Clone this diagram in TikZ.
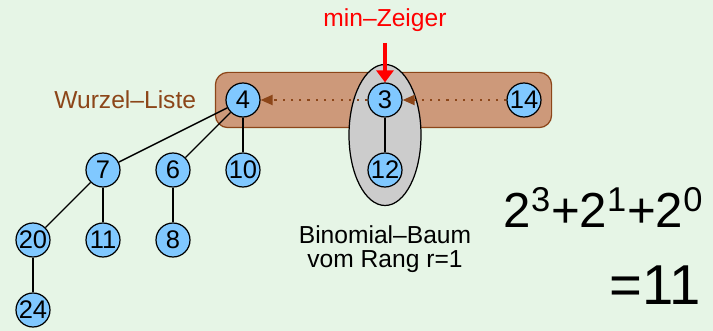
\documentclass[tikz,border=0pt]{standalone}
\usepackage{fontspec}
\setmainfont{Liberation Sans}
\usetikzlibrary{positioning,arrows.meta,backgrounds,fit,calc}
\definecolor{bggreen}{RGB}{230,245,230}
\definecolor{listfill}{RGB}{205,153,122}
\definecolor{listdraw}{RGB}{140,70,25}
\definecolor{keyblue}{RGB}{128,200,255}
\definecolor{treegray}{RGB}{204,204,204}
\begin{document}
\begin{tikzpicture}[node distance=1.4cm,
  key/.style={circle, draw, fill=keyblue, line width=0.7pt, minimum size=0.68cm, inner sep=0pt, font=\fontsize{14.5}{15}\selectfont},
  lbl/.style={font=\fontsize{14}{14}\selectfont},
  hand/.style={font=\fontsize{28}{30}\selectfont},
  nextptr/.style={listdraw, line width=1.2pt, dash pattern=on 1.2pt off 3.5pt, -{Triangle[length=0.24cm, width=0.2cm]}},
  minptr/.style={red, line width=2.2pt, shorten <=3pt, -{Triangle[length=0.24cm, width=0.34cm]}}]
  \node[key] (n4) at (4.86,-2.0) {4};
  \node[key, right of=n4, xshift=1.44cm] (n3) {3};
  \node[key, right of=n3, xshift=1.38cm] (n14) {14};
  \node[key, below of=n4] (n10) {10};
  \node[key, left of=n10] (n6) {6};
  \node[key, left of=n6] (n7) {7};
  \node[key, below of=n7] (n11) {11};
  \node[key, below of=n6] (n8) {8};
  \node[key, left of=n11] (n20) {20};
  \node[key, below of=n20] (n24) {24};
  \node[key, below of=n3] (n12) {12};
  \begin{scope}[on background layer]
    \fill[bggreen] (0,0) rectangle (14.26,-6.62);
    \node[draw=listdraw, fill=listfill, line width=0.7pt, rounded corners=0.25cm, inner sep=0.2cm, fit=(n4)(n14)] (wl) {};
    \draw[fill=treegray, line width=0.7pt] ($(n3)!0.5!(n12)$) ellipse [x radius=0.72cm, y radius=1.41cm];
  \end{scope}
  \useasboundingbox (0,0) rectangle (14.26,-6.62);
  \node[lbl, text=listdraw, left=0.25cm of wl] (wlabel) {Wurzel--Liste};
  \node[lbl, text=red, above of=n3, yshift=0.2cm] (minz) {min--Zeiger};
  \node[lbl, below of=n12, yshift=-0.18cm, align=center] (bb) {Binomial--Baum\\vom Rang r=1};
  \draw[line width=0.8pt] (n4) -- (n7);
  \draw[line width=0.8pt] (n4) -- (n6);
  \draw[line width=0.8pt] (n4) -- (n10);
  \draw[line width=0.8pt] (n7) -- (n20);
  \draw[line width=0.8pt] (n7) -- (n11);
  \draw[line width=0.8pt] (n6) -- (n8);
  \draw[line width=0.8pt] (n20) -- (n24);
  \draw[line width=0.8pt] (n3) -- (n12);
  \draw[nextptr] (n3) -- (n4);
  \draw[nextptr] (n14) -- (n3);
  \draw[minptr] (minz) -- (n3);
  % handwritten note
  \node[hand, anchor=west] (sum) at (9.95,-4.15) {2\textsuperscript{3}+2\textsuperscript{1}+2\textsuperscript{0}};
  \node[hand, font=\fontsize{32}{34}\selectfont] (res) at (13.1,-5.7) {=11};
\end{tikzpicture}
\end{document}
